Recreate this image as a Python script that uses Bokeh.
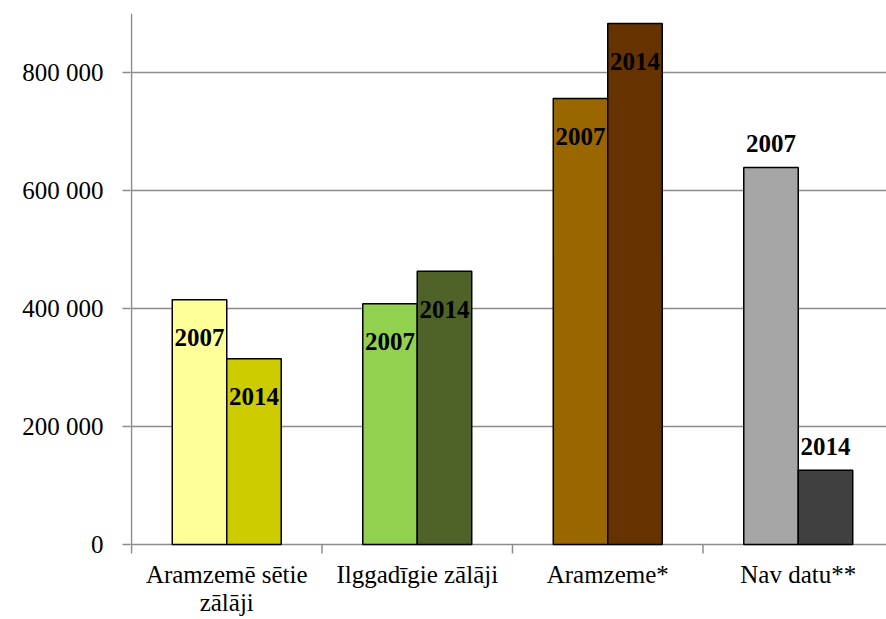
from bokeh.plotting import figure
from bokeh.models import Range1d, FixedTicker, ColumnDataSource
from bokeh.core.properties import value
from bokeh.embed import file_html
from bokeh.resources import INLINE

# ---- data ----
categories = ["Aramzemē sētie\nzālāji", "Ilggadīgie zālāji", "Aramzeme*", "Nav datu**"]
series_names = ["2007", "2014"]
values_2007 = [415000, 408000, 756000, 639000]
values_2014 = [315000, 463000, 883000, 126000]
colors_2007 = ["#FFFF99", "#92D050", "#996600", "#A6A6A6"]
colors_2014 = ["#CCCC00", "#4F6228", "#663300", "#404040"]
label_inside = [True, True, True, False]
y_ticks = [0, 200000, 400000, 600000, 800000]
y_tick_labels = ["0", "200 000", "400 000", "600 000", "800 000"]
y_max = 900000

# ---- layout (pixels) ----
FONT = "Liberation Serif"
W, H = 886, 619
LEFT = 130          # border left of the frame
TOP = 13
CAT_PX = 190.5      # width of one category
PLOT_PX = 531       # height from value 0 to y_max
TICK_PX = 9
frame_w = W - LEFT
frame_h = H - TOP
units_per_px = y_max / PLOT_PX
x_start = -1 / CAT_PX
x_end = x_start + frame_w / CAT_PX
y_start = -(frame_h - PLOT_PX) * units_per_px
bar_w = 0.286
GRID = "#8C8C8C"

p = figure(width=W, height=H, x_range=Range1d(x_start, x_end), y_range=Range1d(y_start, y_max),
           output_backend="svg", toolbar_location=None,
           min_border_left=LEFT, min_border_right=0, min_border_top=TOP, min_border_bottom=0)
p.outline_line_color = None
p.background_fill_color = "white"
p.border_fill_color = "white"
p.xaxis.visible = False
p.xgrid.grid_line_color = None

n = len(categories)
centers = [i + 0.5 for i in range(n)]

# gridlines
p.ygrid.ticker = FixedTicker(ticks=y_ticks)
p.ygrid.grid_line_color = GRID
p.ygrid.grid_line_width = 1.5

# category axis: boundary ticks below the zero line, vertical value axis line
bounds = [b for b in range(n + 1) if b <= x_end]
p.segment(x0=bounds, y0=[0] * len(bounds), x1=bounds,
          y1=[-TICK_PX * units_per_px] * len(bounds), line_color=GRID, line_width=1.5)
p.segment(x0=[0], y0=[0], x1=[0], y1=[y_max], line_color=GRID, line_width=1.5)

src = ColumnDataSource(dict(
    x=[c - bar_w / 2 for c in centers] + [c + bar_w / 2 for c in centers],
    top=values_2007 + values_2014,
    color=colors_2007 + colors_2014,
    label=[series_names[0]] * n + [series_names[1]] * n,
    yoff=[(38 if ins else -24) for ins in label_inside] * 2,
))

p.vbar(x="x", top="top", width=bar_w, source=src, fill_color="color",
       line_color="black", line_width=1.5)
p.text(x="x", y="top", text="label", y_offset="yoff", source=src,
       text_align="center", text_baseline="middle",
       text_font=value(FONT), text_font_style="bold", text_font_size="25px",
       text_color="black")

# category labels under the axis
cat_src = ColumnDataSource(dict(x=centers, y=[0] * n, text=categories))
p.text(x="x", y="y", text="text", source=cat_src, y_offset=16,
       text_align="center", text_baseline="top",
       text_font=value(FONT), text_font_size="25px",
       text_line_height=1.05, text_color="black")

# value axis ticks and labels
p.yaxis.ticker = FixedTicker(ticks=y_ticks)
p.yaxis.major_label_overrides = {t: l for t, l in zip(y_ticks, y_tick_labels)}
p.yaxis.major_label_text_font = FONT
p.yaxis.major_label_text_font_size = "25px"
p.yaxis.major_label_text_color = "black"
p.yaxis.major_tick_out = 8
p.yaxis.major_tick_in = 0
p.yaxis.minor_tick_out = 0
p.yaxis.minor_tick_in = 0
p.yaxis.major_label_standoff = 19
p.yaxis.axis_line_color = None
p.yaxis.major_tick_line_color = GRID
p.yaxis.major_tick_line_width = 1.5

open("out.html", "w").write(file_html(p, INLINE))
